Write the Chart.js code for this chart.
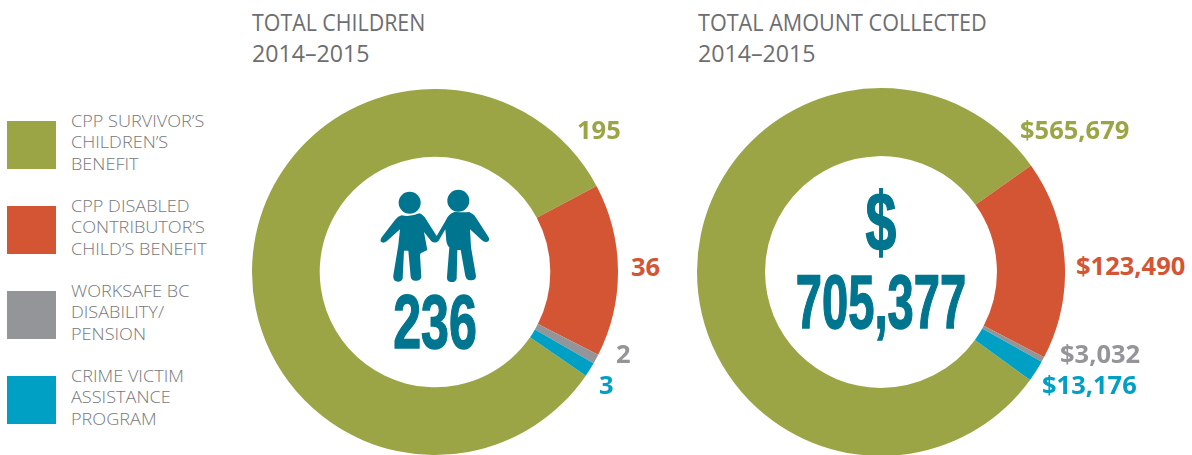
<!DOCTYPE html>
<html><head><meta charset="utf-8">
<script src="https://cdn.jsdelivr.net/npm/chart.js@4"></script>
<style>
html,body{margin:0;padding:0;background:#fff;width:1192px;height:455px;overflow:hidden}
body{position:relative;font-family:"Open Sans","Noto Sans",sans-serif}
canvas{position:absolute}
.t{position:absolute;white-space:nowrap}
.title{color:#6d6e71;font-size:24px;line-height:31px;transform-origin:0 0}
.leg{color:#77787b;font-size:17px;line-height:21.3px;font-weight:300;transform-origin:0 0;transform:scaleX(1.065)}
.sw{position:absolute;left:7px;width:49px;height:48px}
.val{font-weight:700;font-size:25.5px;line-height:28px;font-family:"Open Sans",sans-serif;transform-origin:0 0}
.big{color:#00758f;font-family:"Liberation Sans",sans-serif;font-weight:700;transform-origin:50% 50%;text-align:center;-webkit-text-stroke:1.5px #00758f}
</style></head><body>
<canvas id="c1" width="366" height="366" style="left:252px;top:89px;width:366px;height:366px"></canvas>
<canvas id="c2" width="368" height="368" style="left:697px;top:88px;width:368px;height:368px"></canvas>
<svg class="t" style="left:340px;top:170px" width="180" height="130" viewBox="0 0 540 390">
<g fill="#00758f">
<circle cx="209" cy="98" r="33"/><circle cx="355" cy="92" r="33"/>
<path d="M185 136 Q210 142 238 130 Q250 134 258 148 L290 198 L318 150 Q326 130 345 125 Q365 128 388 126 Q402 132 410 146 L445 200 Q452 212 440 216 Q432 217 425 210 L390 178 L393 232 L408 318 Q408 332 392 331 Q380 332 376 318 L362 240 L352 240 L350 326 Q346 338 332 336 Q320 334 321 320 L328 232 Q318 224 318 200 L316 178 L296 212 Q286 222 274 214 L252 186 L262 240 L242 250 L240 255 L244 322 Q240 334 226 332 Q214 332 212 320 L205 242 L192 242 L188 326 Q182 338 168 334 Q158 330 160 316 L175 225 L180 178 L140 214 Q128 222 122 214 Q120 208 128 198 L165 150 Q174 138 185 136Z"/>
</g></svg>
<div class="t big" style="left:335px;top:284px;width:200px;font-size:76px;line-height:76px;transform:scaleX(.66)" id="n1"></div>
<div class="t big" style="left:781px;top:172px;width:200px;font-size:84px;line-height:100px;transform:scaleX(.66)" id="n2a">$</div>
<div class="t big" style="left:731px;top:264px;width:300px;font-size:76px;line-height:76px;transform:scaleX(.62)" id="n2"></div>
<script>
const categories=["CPP SURVIVOR’S\nCHILDREN’S\nBENEFIT","CPP DISABLED\nCONTRIBUTOR’S\nCHILD’S BENEFIT","WORKSAFE BC\nDISABILITY/\nPENSION","CRIME VICTIM\nASSISTANCE\nPROGRAM"];
const children=[195,36,2,3];
const amounts=[565679,123490,3032,13176];
const colors=["#9ca545","#d45534","#939598","#00a0c4"];
const titles=[["TOTAL CHILDREN","2014–2015"],["TOTAL AMOUNT COLLECTED","2014–2015"]];
const totalChildren="236", totalAmount="705,377";
const childLabels=["195","36","2","3"];
const amountLabels=["$565,679","$123,490","$3,032","$13,176"];

function donut(id,data,rot){
  new Chart(document.getElementById(id),{type:'doughnut',
    data:{labels:categories.map(s=>s.replace(/\n/g,' ')),datasets:[{data:data,backgroundColor:colors,borderWidth:0}]},
    options:{responsive:false,animation:false,rotation:rot,cutout:'63%',layout:{padding:0},
      plugins:{legend:{display:false},tooltip:{enabled:false}}}});
}
donut('c1',children,124.5);
donut('c2',amounts,125.9);

function add(cls,l,t,txt,col){const d=document.createElement('div');d.className='t '+cls;d.style.left=l+'px';d.style.top=t+'px';d.innerText=txt;if(col)d.style.color=col;document.body.appendChild(d);return d;}
add('title',252,6,titles[0][0]).style.transform='scaleX(.89)';
add('title',252,37,titles[0][1]).style.transform='scaleX(.965)';
add('title',698,6,titles[1][0]).style.transform='scaleX(.90)';
add('title',698,37,titles[1][1]).style.transform='scaleX(.965)';
const legY=[121,206,291,376], swY=[121,206,291,376];
categories.forEach((c,i)=>{
  const s=document.createElement('div');s.className='sw';s.style.top=swY[i]+'px';s.style.background=colors[i];document.body.appendChild(s);
  add('leg',71,legY[i]-11,c);
});
const pos1=[[577,115],[631,252],[616,339],[599,370]];
const pos2=[[1020,115],[1076,251],[1060,339],[1042,370]];
childLabels.forEach((v,i)=>add('val',pos1[i][0],pos1[i][1],v,colors[i]));
amountLabels.forEach((v,i)=>add('val',pos2[i][0],pos2[i][1],v,colors[i]));
document.getElementById('n1').innerText=totalChildren;
document.getElementById('n2').innerText=totalAmount;
</script>
</body></html>
